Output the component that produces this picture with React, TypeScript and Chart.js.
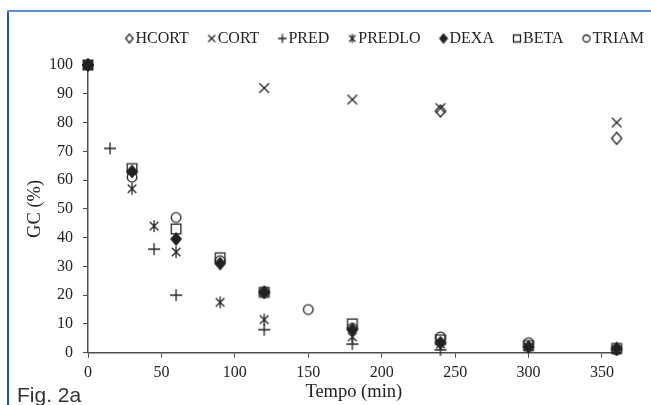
import React, { useEffect, useRef } from 'react';
import { Chart, registerables } from 'chart.js';

Chart.register(...registerables);

const SERIES_NAMES = ['HCORT', 'CORT', 'PRED', 'PREDLO', 'DEXA', 'BETA', 'TRIAM'];
const MARKERS = ['diamond', 'x', 'plus', 'star', 'fdiamond', 'square', 'circle'];

const HCORT_T = [0, 240, 360];
const HCORT_V = [100, 84, 74.5];
const CORT_T = [0, 120, 180, 240, 360];
const CORT_V = [100, 92, 88, 85, 80];
const PRED_T = [0, 15, 45, 60, 120, 180, 240];
const PRED_V = [100, 71, 36, 20, 8, 3, 1];
const PREDLO_T = [0, 30, 45, 60, 90, 120, 180, 240, 300, 360];
const PREDLO_V = [100, 57, 44, 35, 17.5, 11.5, 5.5, 3, 2, 1];
const DEXA_T = [0, 30, 60, 90, 120, 180, 240, 300, 360];
const DEXA_V = [100, 63, 39.5, 31, 21, 8, 3.5, 2, 1.5];
const BETA_T = [0, 30, 60, 90, 120, 180, 240, 300, 360];
const BETA_V = [100, 64, 43, 33, 21, 10, 4.5, 2.5, 1.5];
const TRIAM_T = [0, 30, 60, 90, 120, 150, 180, 240, 300, 360];
const TRIAM_V = [100, 61, 47, 32, 21, 15, 8.5, 5.5, 3.5, 1];

const SERIES_T = [HCORT_T, CORT_T, PRED_T, PREDLO_T, DEXA_T, BETA_T, TRIAM_T];
const SERIES_V = [HCORT_V, CORT_V, PRED_V, PREDLO_V, DEXA_V, BETA_V, TRIAM_V];

const X_MIN = 0;
const X_MAX = 362;
const X_STEP = 50;
const Y_MIN = 0;
const Y_MAX = 100;
const Y_STEP = 10;

const INK = '#222222';
const AXIS = '#4d4d4d';
const SERIF = '"Liberation Serif", "Times New Roman", serif';

function drawMarker(ctx: CanvasRenderingContext2D, kind: string, cx: number, cy: number, r: number) {
  ctx.strokeStyle = INK;
  ctx.fillStyle = INK;
  ctx.lineWidth = 1.3;
  ctx.beginPath();
  if (kind === 'diamond' || kind === 'fdiamond') {
    const w = r * 0.85;
    ctx.moveTo(cx, cy - r);
    ctx.lineTo(cx + w, cy);
    ctx.lineTo(cx, cy + r);
    ctx.lineTo(cx - w, cy);
    ctx.closePath();
    if (kind === 'fdiamond') ctx.fill();
    ctx.stroke();
  } else if (kind === 'x') {
    const a = r * 0.8;
    ctx.moveTo(cx - a, cy - a);
    ctx.lineTo(cx + a, cy + a);
    ctx.moveTo(cx + a, cy - a);
    ctx.lineTo(cx - a, cy + a);
    ctx.stroke();
  } else if (kind === 'plus') {
    ctx.moveTo(cx - r, cy);
    ctx.lineTo(cx + r, cy);
    ctx.moveTo(cx, cy - r);
    ctx.lineTo(cx, cy + r);
    ctx.stroke();
  } else if (kind === 'star') {
    const a = r * 0.72;
    ctx.moveTo(cx - a, cy - a);
    ctx.lineTo(cx + a, cy + a);
    ctx.moveTo(cx + a, cy - a);
    ctx.lineTo(cx - a, cy + a);
    ctx.moveTo(cx, cy - r);
    ctx.lineTo(cx, cy + r);
    ctx.stroke();
  } else if (kind === 'square') {
    const a = r * 0.8;
    ctx.rect(cx - a, cy - a, 2 * a, 2 * a);
    ctx.stroke();
  } else if (kind === 'circle') {
    ctx.arc(cx, cy, r * 0.8, 0, Math.PI * 2);
    ctx.stroke();
  }
}

function makeImage(kind: string, w: number, h: number, cx: number, cy: number, r: number) {
  const c = document.createElement('canvas');
  c.width = w;
  c.height = h;
  const ctx = c.getContext('2d')!;
  drawMarker(ctx, kind, cx, cy, r);
  return c;
}

export default function App() {
  const ref = useRef<HTMLCanvasElement>(null);

  useEffect(() => {
    const prevMargin = document.body.style.margin;
    document.body.style.margin = '0';
    const plotImgs = MARKERS.map((k) => makeImage(k, 18, 18, 9, 9, 6));
    const legendImgs = MARKERS.map((k) => makeImage(k, 28, 16, 23, 8, 4.4));

    const datasets = SERIES_NAMES.map((name, i) => ({
      label: name,
      data: SERIES_T[i].map((t, j) => ({ x: t, y: SERIES_V[i][j] })),
      pointStyle: plotImgs[i] as any,
      showLine: false,
      clip: false as any,
      borderColor: INK,
      backgroundColor: INK,
    }));

    const chart = new Chart(ref.current!, {
      type: 'scatter',
      data: { datasets },
      options: {
        responsive: false,
        animation: false,
        events: [],
        layout: { padding: { top: 23.5, left: 0, right: 0, bottom: 0 } },
        plugins: {
          legend: {
            display: true,
            position: 'top',
            align: 'end',
            labels: {
              usePointStyle: true,
              boxWidth: 14,
              padding: 7,
              color: INK,
              font: { family: SERIF, size: 16 },
              generateLabels: (c: any) => {
                const items = Chart.defaults.plugins.legend.labels.generateLabels(c);
                return items.map((it: any, i: number) => ({ ...it, pointStyle: legendImgs[i] }));
              },
            },
          },
          subtitle: {
            display: true,
            text: ' ',
            position: 'top',
            weight: 500,
            font: { size: 1, lineHeight: 1 },
            padding: { top: 0, bottom: 7.5 },
          } as any,
          title: { display: false },
          tooltip: { enabled: false },
        },
        scales: {
          x: {
            type: 'linear',
            min: X_MIN,
            max: X_MAX,
            ticks: {
              stepSize: X_STEP,
              includeBounds: false,
              autoSkip: false,
              maxRotation: 0,
              padding: 5,
              color: INK,
              font: { family: SERIF, size: 16 },
            },
            grid: { display: true, drawOnChartArea: false, drawTicks: true, tickLength: 5, tickColor: AXIS },
            border: { display: true, color: AXIS, width: 1.5 },
            title: {
              display: true,
              text: 'Tempo (min)',
              color: INK,
              font: { family: SERIF, size: 18.5 },
              padding: { top: 0, bottom: 2 },
            },
            afterBuildTicks: (s: any) => {
              s.ticks = s.ticks.filter((t: any) => t.value % X_STEP === 0);
            },
            afterFit: (s: any) => {
              s.height = 52.3;
              s.paddingRight = 31.4;
            },
          },
          y: {
            type: 'linear',
            min: Y_MIN,
            max: Y_MAX,
            ticks: { stepSize: Y_STEP, autoSkip: false, padding: 10, color: INK, font: { family: SERIF, size: 16 } },
            grid: { display: true, drawOnChartArea: false, drawTicks: true, tickLength: 5, tickColor: AXIS },
            border: { display: true, color: AXIS, width: 1.5 },
            title: {
              display: true,
              text: 'GC (%)',
              color: INK,
              font: { family: SERIF, size: 18.5 },
              padding: { top: 24, bottom: 0 },
            },
            afterFit: (s: any) => {
              s.width = 88;
            },
          },
        },
      } as any,
    });

    return () => {
      chart.destroy();
      document.body.style.margin = prevMargin;
    };
  }, []);

  return (
    <div style={{ position: 'relative', width: 651, height: 405, overflow: 'hidden', background: '#ffffff' }}>
      <canvas ref={ref} width={651} height={405} style={{ display: 'block', width: 651, height: 405 }} />
      <div style={{ position: 'absolute', left: 7, top: 10, width: 2, height: 395, background: '#1f5ca3' }} />
      <div style={{ position: 'absolute', left: 7, top: 10, right: 0, height: 1.5, background: '#5a8fcf' }} />
      <div
        style={{
          position: 'absolute',
          left: 17,
          top: 384,
          fontFamily: '"Liberation Sans", Arial, sans-serif',
          fontSize: 21,
          lineHeight: '21px',
          color: '#333333',
          whiteSpace: 'nowrap',
        }}
      >
        Fig. 2a
      </div>
    </div>
  );
}
